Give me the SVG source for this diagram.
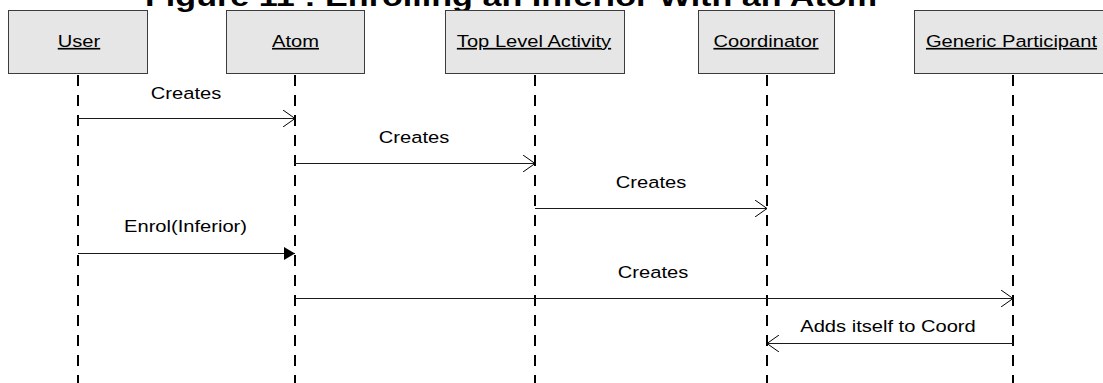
<svg xmlns="http://www.w3.org/2000/svg" width="1103" height="383" viewBox="0 0 1103 383">
  <style>
    .box { fill: #e6e6e6; stroke: #3c3c3c; stroke-width: 1; }
    .hdr { font-family: "Liberation Sans", Arial, sans-serif; font-size: 16.5px; text-anchor: middle; text-decoration: underline; fill: #000; }
    .lbl { font-family: "Liberation Sans", Arial, sans-serif; font-size: 16.5px; text-anchor: middle; fill: #000; }
    .life { stroke: #000; stroke-width: 2; stroke-dasharray: 11 9; fill: none; }
    .msg { stroke: #1a1a1a; stroke-width: 1; fill: none; }
    .open { marker-end: url(#open); }
    .call { marker-end: url(#solid); }
    .title { font-family: "Liberation Sans", Arial, sans-serif; font-size: 27.5px; font-weight: bold; fill: #000; }
  </style>
  <defs>
    <!-- open stick arrowhead for asynchronous / create messages -->
    <marker id="open" viewBox="0 0 13 17" refX="12" refY="8.5" markerWidth="13" markerHeight="17" markerUnits="userSpaceOnUse" orient="auto">
      <path d="M0,0 L12,8.5 L0,17" fill="none" stroke="#000" stroke-width="1"/>
    </marker>
    <!-- filled arrowhead for synchronous call -->
    <marker id="solid" viewBox="0 0 11 13" refX="11" refY="6.5" markerWidth="11" markerHeight="13" markerUnits="userSpaceOnUse" orient="auto">
      <path d="M0,0 L11,6.5 L0,13 z" fill="#000"/>
    </marker>
  </defs>

  <rect width="1103" height="383" fill="#fff"/>

  <text class="title" x="145" y="6" textLength="732" lengthAdjust="spacingAndGlyphs">Figure 11 : Enrolling an Inferior With an Atom</text>

  <!-- participants with their lifelines -->
  <g id="user">
    <rect class="box" x="8.5" y="10.5" width="139" height="63"/>
    <line class="life" x1="78" y1="75" x2="78" y2="383"/>
    <text class="hdr" transform="translate(79,47) scale(1.22,1)">User</text>
  </g>
  <g id="atom">
    <rect class="box" x="226.5" y="10.5" width="138" height="63"/>
    <line class="life" x1="295" y1="75" x2="295" y2="383"/>
    <text class="hdr" transform="translate(295.5,47) scale(1.22,1)">Atom</text>
  </g>
  <g id="top-level-activity">
    <rect class="box" x="445.5" y="10.5" width="179" height="63"/>
    <line class="life" x1="535" y1="75" x2="535" y2="383"/>
    <text class="hdr" transform="translate(534,47) scale(1.22,1)">Top Level Activity</text>
  </g>
  <g id="coordinator">
    <rect class="box" x="698.5" y="10.5" width="136" height="63"/>
    <line class="life" x1="767" y1="75" x2="767" y2="383"/>
    <text class="hdr" transform="translate(766,47) scale(1.22,1)">Coordinator</text>
  </g>
  <g id="generic-participant">
    <rect class="box" x="914.5" y="10.5" width="198" height="63"/>
    <line class="life" x1="1013" y1="75" x2="1013" y2="383"/>
    <text class="hdr" transform="translate(1011.5,47) scale(1.22,1)">Generic Participant</text>
  </g>

  <!-- messages -->
  <g id="messages">
    <line class="msg open" x1="78" y1="118.5" x2="295" y2="118.5"/>
    <text class="lbl" transform="translate(186,99) scale(1.22,1)">Creates</text>

    <line class="msg open" x1="295" y1="163.5" x2="535" y2="163.5"/>
    <text class="lbl" transform="translate(414,143) scale(1.22,1)">Creates</text>

    <line class="msg open" x1="535" y1="208.5" x2="767" y2="208.5"/>
    <text class="lbl" transform="translate(651,188) scale(1.22,1)">Creates</text>

    <line class="msg call" x1="78" y1="253.5" x2="295" y2="253.5"/>
    <text class="lbl" transform="translate(185.5,232) scale(1.22,1)">Enrol(Inferior)</text>

    <line class="msg open" x1="295" y1="298.5" x2="1013" y2="298.5"/>
    <text class="lbl" transform="translate(653,278) scale(1.22,1)">Creates</text>

    <line class="msg open" x1="1013" y1="343.5" x2="767" y2="343.5"/>
    <text class="lbl" transform="translate(888,332) scale(1.22,1)">Adds itself to Coord</text>
  </g>
</svg>
